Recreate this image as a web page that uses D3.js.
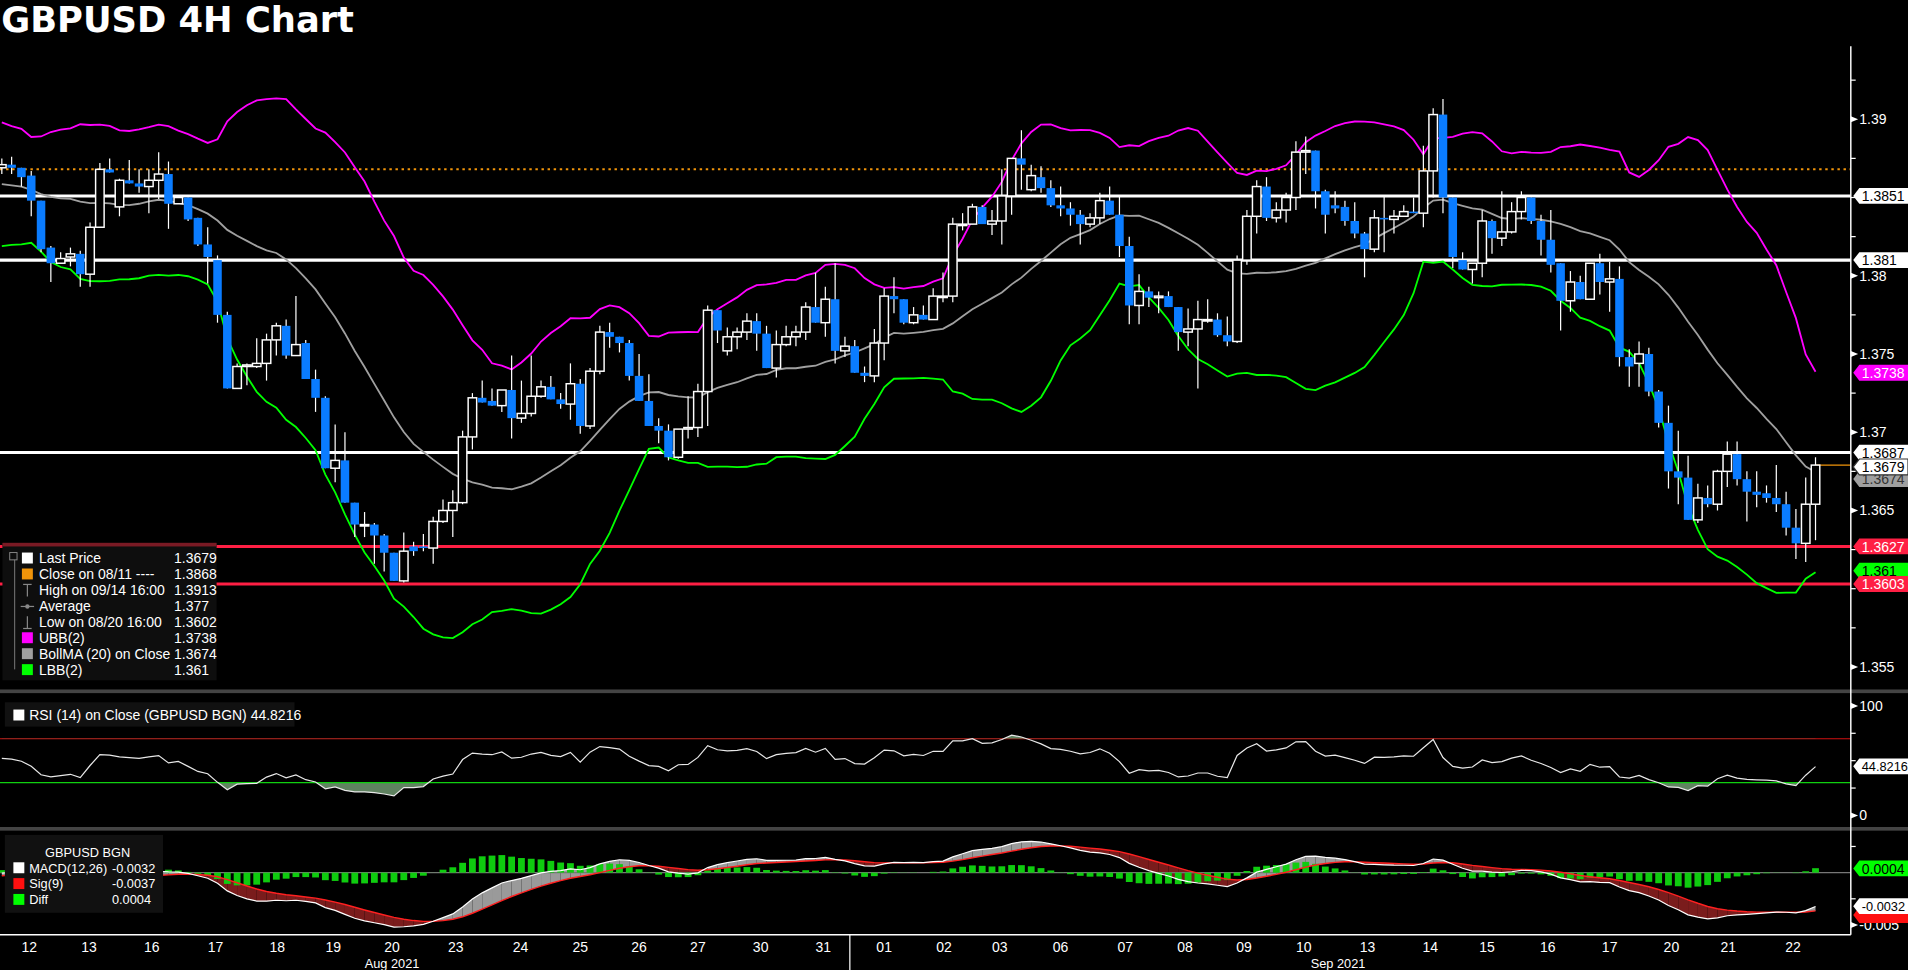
<!DOCTYPE html>
<html><head><meta charset="utf-8">
<script src="https://cdn.jsdelivr.net/npm/d3@7"></script>
<style>html,body{margin:0;padding:0;background:#000;overflow:hidden}svg{display:block}</style>
</head><body>
<script>
// ---------- DATA ----------
const openP=[1.3869,1.3871,1.3869,1.3864,1.3848,1.3818,1.3808,1.3812,1.3814,1.3801,
1.3831,1.3868,1.3844,1.3861,1.3859,1.3857,1.3861,1.3865,1.3846,1.3850,
1.3837,1.3820,1.3810,1.3775,1.3728,1.3742,1.3742,1.3744,1.3759,1.3768,
1.3749,1.3757,1.3734,1.3722,1.3677,1.3682,1.3655,1.3641,1.3641,1.3634,
1.3623,1.3605,1.3627,1.3627,1.3626,1.3643,1.3650,1.3655,1.3697,1.3722,
1.3720,1.3717,1.3727,1.3709,1.3712,1.3723,1.3729,1.3721,1.3718,1.3731,
1.3704,1.3739,1.3764,1.3761,1.3757,1.3736,1.3720,1.3704,1.3701,1.3684,
1.3702,1.3703,1.3726,1.3778,1.3752,1.3761,1.3764,1.3771,1.3763,1.3741,
1.3756,1.3761,1.3764,1.3780,1.3770,1.3785,1.3752,1.3755,1.3738,1.3736,
1.3757,1.3787,1.3785,1.3770,1.3775,1.3772,1.3787,1.3787,1.3833,1.3833,
1.3844,1.3833,1.3835,1.3851,1.3875,1.3855,1.3863,1.3856,1.3845,1.3843,
1.3839,1.3833,1.3837,1.3848,1.3839,1.3819,1.3781,1.3790,1.3786,1.3787,
1.3780,1.3764,1.3766,1.3772,1.3772,1.3762,1.3758,1.3810,1.3838,1.3857,
1.3837,1.3842,1.3850,1.3879,1.3880,1.3854,1.3845,1.3844,1.3835,1.3827,
1.3817,1.3837,1.3836,1.3838,1.3841,1.3840,1.3867,1.3903,1.3850,1.3810,
1.3804,1.3808,1.3835,1.3824,1.3828,1.3841,1.3850,1.3835,1.3823,1.3808,
1.3784,1.3796,1.3785,1.3808,1.3796,1.3798,1.3748,1.3744,1.3750,1.3726,
1.3706,1.3675,1.3671,1.3644,1.3658,1.3654,1.3675,1.3686,1.3670,1.3662,
1.3661,1.3658,1.3654,1.3639,1.3629,1.3654];
const closeP=[1.3871,1.3869,1.3863,1.3848,1.3817,1.3808,1.3811,1.3814,1.3801,1.3831,
1.3868,1.3866,1.3861,1.3859,1.3857,1.3861,1.3865,1.3846,1.3850,1.3836,
1.3820,1.3812,1.3775,1.3728,1.3742,1.3743,1.3744,1.3759,1.3768,1.3749,
1.3756,1.3734,1.3722,1.3677,1.3682,1.3655,1.3641,1.3641,1.3634,1.3623,
1.3605,1.3624,1.3624,1.3626,1.3643,1.3650,1.3655,1.3697,1.3722,1.3719,
1.3717,1.3727,1.3709,1.3712,1.3723,1.3729,1.3721,1.3718,1.3731,1.3704,
1.3739,1.3764,1.3761,1.3757,1.3736,1.3720,1.3704,1.3701,1.3684,1.3702,
1.3703,1.3726,1.3778,1.3765,1.3761,1.3764,1.3771,1.3763,1.3741,1.3756,
1.3761,1.3764,1.3780,1.3770,1.3785,1.3752,1.3755,1.3738,1.3736,1.3757,
1.3787,1.3785,1.3770,1.3775,1.3772,1.3787,1.3787,1.3833,1.3833,1.3844,
1.3833,1.3835,1.3851,1.3875,1.3871,1.3864,1.3856,1.3845,1.3843,1.3839,
1.3833,1.3837,1.3848,1.3839,1.3819,1.3781,1.3790,1.3786,1.3787,1.3780,
1.3764,1.3766,1.3772,1.3772,1.3762,1.3758,1.3810,1.3838,1.3857,1.3837,
1.3842,1.3850,1.3879,1.3880,1.3854,1.3839,1.3843,1.3835,1.3827,1.3817,
1.3837,1.3836,1.3838,1.3841,1.3840,1.3867,1.3903,1.3850,1.3812,1.3804,
1.3808,1.3835,1.3824,1.3828,1.3841,1.3850,1.3835,1.3823,1.3807,1.3784,
1.3796,1.3785,1.3808,1.3796,1.3798,1.3748,1.3742,1.3750,1.3726,1.3706,
1.3675,1.3671,1.3644,1.3658,1.3654,1.3675,1.3686,1.3670,1.3662,1.3660,
1.3658,1.3654,1.3639,1.3629,1.3654,1.3679];
const highP=[1.3875,1.3876,1.3869,1.3867,1.3848,1.3819,1.3815,1.3818,1.3816,1.3834,
1.3872,1.3875,1.3862,1.3874,1.3868,1.3868,1.3879,1.3873,1.3850,1.3850,
1.3837,1.3831,1.3813,1.3777,1.3744,1.3744,1.3760,1.3763,1.3770,1.3772,
1.3787,1.3759,1.3740,1.3723,1.3705,1.3700,1.3655,1.3649,1.3642,1.3635,
1.3623,1.3636,1.3630,1.3635,1.3646,1.3657,1.3663,1.3701,1.3725,1.3733,
1.3728,1.3727,1.3749,1.3733,1.3749,1.3733,1.3736,1.3725,1.3744,1.3734,
1.3741,1.3768,1.3770,1.3761,1.3759,1.3750,1.3737,1.3709,1.3705,1.3702,
1.3723,1.3731,1.3781,1.3778,1.3767,1.3767,1.3776,1.3776,1.3768,1.3765,
1.3768,1.3768,1.3783,1.3802,1.3793,1.3808,1.3761,1.3759,1.3742,1.3766,
1.3792,1.3799,1.3785,1.3780,1.3781,1.3792,1.3802,1.3837,1.3840,1.3846,
1.3845,1.3842,1.3868,1.3875,1.3893,1.3871,1.3870,1.3861,1.3857,1.3847,
1.3842,1.3840,1.3853,1.3857,1.3851,1.3825,1.3801,1.3793,1.3790,1.3790,
1.3780,1.3779,1.3784,1.3785,1.3776,1.3774,1.3813,1.3842,1.3861,1.3863,
1.3847,1.3853,1.3886,1.3889,1.3880,1.3855,1.3854,1.3848,1.3847,1.3828,
1.3842,1.3851,1.3842,1.3845,1.3850,1.3883,1.3907,1.3913,1.3850,1.3815,
1.3808,1.3842,1.3836,1.3854,1.3847,1.3854,1.3850,1.3839,1.3842,1.3808,
1.3803,1.3800,1.3808,1.3814,1.3809,1.3806,1.3753,1.3758,1.3754,1.3727,
1.3717,1.3701,1.3685,1.3667,1.3666,1.3676,1.3694,1.3694,1.3675,1.3675,
1.3666,1.3679,1.3662,1.3651,1.3671,1.3684];
const lowP=[1.3865,1.3865,1.3857,1.3838,1.3815,1.3796,1.3808,1.3806,1.3793,1.3793,
1.3831,1.3866,1.3838,1.3859,1.3853,1.3840,1.3849,1.3830,1.3846,1.3835,
1.3819,1.3795,1.3770,1.3728,1.3728,1.3730,1.3741,1.3733,1.3749,1.3747,
1.3749,1.3734,1.3713,1.3677,1.3668,1.3655,1.3633,1.3633,1.3616,1.3611,
1.3605,1.3604,1.3621,1.3624,1.3616,1.3642,1.3633,1.3654,1.3689,1.3719,
1.3717,1.3713,1.3696,1.3706,1.3710,1.3722,1.3721,1.3715,1.3708,1.3699,
1.3702,1.3737,1.3754,1.3751,1.3733,1.3720,1.3704,1.3693,1.3682,1.3683,
1.3696,1.3697,1.3704,1.3757,1.3749,1.3753,1.3759,1.3752,1.3741,1.3735,
1.3755,1.3755,1.3759,1.3770,1.3761,1.3744,1.3748,1.3738,1.3732,1.3732,
1.3746,1.3776,1.3769,1.3769,1.3772,1.3772,1.3783,1.3783,1.3829,1.3833,
1.3833,1.3826,1.3820,1.3839,1.3855,1.3854,1.3853,1.3844,1.3838,1.3832,
1.3820,1.3831,1.3833,1.3839,1.3812,1.3769,1.3769,1.3780,1.3776,1.3780,
1.3752,1.3755,1.3728,1.3770,1.3761,1.3755,1.3757,1.3807,1.3827,1.3835,
1.3834,1.3834,1.3842,1.3865,1.3843,1.3827,1.3840,1.3832,1.3824,1.3799,
1.3815,1.3815,1.3827,1.3838,1.3840,1.3831,1.3850,1.3840,1.3805,1.3804,
1.3795,1.3799,1.3814,1.3819,1.3827,1.3836,1.3833,1.3813,1.3802,1.3765,
1.3777,1.3785,1.3785,1.3788,1.3777,1.3742,1.3729,1.3729,1.3723,1.3703,
1.3664,1.3654,1.3644,1.3642,1.3652,1.3650,1.3665,1.3666,1.3643,1.3652,
1.3655,1.3649,1.3634,1.3619,1.3617,1.3631];
// closes before the visible window (estimated, used as indicator warm-up)
const priorCloses=[1.3870,1.3862,1.3868,1.3872,1.3866,1.3860,
1.3885,1.3878,1.3890,1.3870,1.3845,1.3828,1.3822,1.3835,1.3850,1.3866,1.3872,1.3880,1.3862,1.3840,1.3830,1.3845,1.3860,1.3875,1.3866];
const dayLabels=["12","13","16","17","18","19","20","23","24","25","26","27","30","31","01","02","03","06","07","08","09","10","13","14","15","16","17","20","21","22"];
const dayIndex=[2.8,8.9,15.3,21.8,28.1,33.8,39.8,46.3,52.9,59,65,71,77.4,83.8,90,96.1,101.8,108,114.6,120.7,126.7,132.8,139.3,145.7,151.5,157.7,164,170.3,176.1,182.7];
const monthLabels=["Aug 2021","Sep 2021"];
const monthIndex=[39.8,136.3];
const monthSplitIndex=87;
const priceTicks=[1.355,1.365,1.37,1.375,1.38,1.39];
const priceMinor=[1.3575,1.36,1.3625,1.3675,1.3725,1.3775,1.3825,1.385,1.3875,1.3925];
const whiteLevels=[1.3851,1.381,1.3687];
const redLevels=[1.3627,1.3603];
const closeOn0811=1.3868;
const rsiTicks=[0,100];
const macdTicks=[-0.005];
const legendRows=[["Last Price","1.3679","#ffffff","box"],["Close on 08/11 ----","1.3868","#f0940a","box"],["High on 09/14 16:00","1.3913","#888","hi"],["Average","1.377","#888","avg"],["Low on 08/20 16:00","1.3602","#888","lo"],["UBB(2)","1.3738","#ff00ff","box"],["BollMA (20)  on Close","1.3674","#a0a0a0","box"],["LBB(2)","1.361","#00ff00","box"]];
const macdLegend=[["MACD(12,26)","-0.0032","#ffffff"],["Sig(9)","-0.0037","#ff1010"],["Diff","0.0004","#00ff00"]];

// ---------- INDICATORS ----------
const allC=priorCloses.concat(closeP), off=priorCloses.length, N=closeP.length;
const bb=d3.range(N).map(i=>{const w=allC.slice(i+off-19,i+off+1);const m=d3.mean(w);const sd=Math.sqrt(d3.mean(w,v=>(v-m)*(v-m)));return {m,u:m+2*sd,l:m-2*sd};});
function ema(arr,p){const k=2/(p+1);const o=[];arr.forEach((v,i)=>o.push(i?v*k+o[i-1]*(1-k):v));return o;}
const e12=ema(allC,12),e26=ema(allC,26);const macdAll=allC.map((v,i)=>e12[i]-e26[i]);const sigAll=ema(macdAll,9);
const macd=macdAll.slice(off),sig=sigAll.slice(off);
const rsiAll=[];{let ag=0,al=0;for(let i=1;i<allC.length;i++){const d=allC[i]-allC[i-1];const g=Math.max(d,0),l=Math.max(-d,0);if(i<=14){ag+=g/14;al+=l/14;}else{ag=(ag*13+g)/14;al=(al*13+l)/14;}rsiAll[i]=100-100/(1+ag/(al||1e-9));}}
const rsi=rsiAll.slice(off);

// ---------- DRAW ----------
const W=1568,H=797;
const svg=d3.select("body").append("svg").attr("width",1908).attr("height",970).attr("viewBox",`0 0 ${W} ${H}`).attr("preserveAspectRatio","none")
 .style("font-family","'DejaVu Sans',Verdana,sans-serif");
svg.append("rect").attr("width",W).attr("height",H).attr("fill","#000");
const AX=1521;
const x=d3.scaleLinear().domain([0,N-1]).range([1.5,1492]);
const y=d3.scaleLinear().domain([1.355,1.39]).range([548,98]);
const yr=d3.scaleLinear().domain([0,100]).range([670,580]);
const ym=d3.scaleLinear().domain([-0.005,0.0025]).range([760,695.5]);

svg.append("text").attr("x",1).attr("y",26).attr("fill","#fff").attr("font-size",29).attr("font-weight","bold").text("GBPUSD 4H Chart");

const main=svg.append("g");
main.append("line").attr("x1",0).attr("x2",AX).attr("y1",y(closeOn0811)).attr("y2",y(closeOn0811)).attr("stroke","#f0940a").attr("stroke-width",1.6).attr("stroke-dasharray","2,3");
main.selectAll(".wl").data(whiteLevels).join("line").attr("x1",0).attr("x2",AX).attr("y1",d=>y(d)).attr("y2",d=>y(d)).attr("stroke","#fff").attr("stroke-width",2.5);
main.selectAll(".rl").data(redLevels).join("line").attr("x1",0).attr("x2",AX).attr("y1",d=>y(d)).attr("y2",d=>y(d)).attr("stroke","#ff1f44").attr("stroke-width",2.5);
const ln=(f)=>d3.line().x((d,i)=>x(i)).y(f);
main.append("path").attr("d",ln(d=>y(d.u))(bb)).attr("fill","none").attr("stroke","#ff00ff").attr("stroke-width",1.5);
main.append("path").attr("d",ln(d=>y(d.m))(bb)).attr("fill","none").attr("stroke","#a0a0a0").attr("stroke-width",1.5);
main.append("path").attr("d",ln(d=>y(d.l))(bb)).attr("fill","none").attr("stroke","#00ff00").attr("stroke-width",1.5);
main.append("line").attr("x1",x(N-1)).attr("x2",AX).attr("y1",y(closeP[N-1])).attr("y2",y(closeP[N-1])).attr("stroke","#f0940a").attr("stroke-width",1);
const cg=main.selectAll(".c").data(d3.range(N)).join("g");
cg.append("line").attr("x1",i=>x(i)).attr("x2",i=>x(i)).attr("y1",i=>y(highP[i])).attr("y2",i=>y(lowP[i])).attr("stroke","#fff").attr("stroke-width",1);
cg.append("rect").attr("x",i=>x(i)-3.5).attr("width",7)
 .attr("y",i=>y(Math.max(openP[i],closeP[i]))).attr("height",i=>Math.max(1.2,Math.abs(y(openP[i])-y(closeP[i]))))
 .attr("fill",i=>closeP[i]<openP[i]?"#0a7cff":"#000").attr("stroke",i=>closeP[i]<openP[i]?"none":"#fff").attr("stroke-width",1.2);

// legend
const lf="'Liberation Sans',Arial,sans-serif";
const lg=svg.append("g").attr("transform","translate(2,446)").style("font-family",lf);
lg.append("rect").attr("width",176).attr("height",113).attr("fill","#0e0e0e");
lg.append("rect").attr("width",176).attr("height",3).attr("fill","#7a1a24");
lg.append("line").attr("x1",10).attr("x2",10).attr("y1",12).attr("y2",104).attr("stroke","#666");
lg.append("rect").attr("x",6).attr("y",8).attr("width",6).attr("height",6).attr("fill","#0e0e0e").attr("stroke","#888").attr("stroke-width",0.8);
legendRows.forEach((r,i)=>{const yy=13+i*13.1;
 if(r[3]==="box")lg.append("rect").attr("x",16).attr("y",yy-5).attr("width",9).attr("height",9).attr("fill",r[2]);
 else if(r[3]==="hi"){lg.append("line").attr("x1",20.5).attr("x2",20.5).attr("y1",yy-5).attr("y2",yy+5).attr("stroke","#888");lg.append("line").attr("x1",17).attr("x2",24).attr("y1",yy-5).attr("y2",yy-5).attr("stroke","#888");}
 else if(r[3]==="lo"){lg.append("line").attr("x1",20.5).attr("x2",20.5).attr("y1",yy-5).attr("y2",yy+5).attr("stroke","#888");lg.append("line").attr("x1",17).attr("x2",24).attr("y1",yy+5).attr("y2",yy+5).attr("stroke","#888");}
 else {lg.append("line").attr("x1",15).attr("x2",26).attr("y1",yy).attr("y2",yy).attr("stroke","#888");lg.append("circle").attr("cx",20.5).attr("cy",yy).attr("r",1.8).attr("fill","#888");}
 lg.append("text").attr("x",30).attr("y",yy+4).attr("fill","#fff").attr("font-size",11.5).text(r[0]);
 lg.append("text").attr("x",141).attr("y",yy+4).attr("fill","#fff").attr("font-size",11.5).text(r[1]);
});

// separators
[568,681].forEach(s=>svg.append("rect").attr("x",0).attr("y",s-1.5).attr("width",W).attr("height",3).attr("fill","#444"));

// RSI panel
const rp=svg.append("g");
rp.append("line").attr("x1",0).attr("x2",AX).attr("y1",yr(70)).attr("y2",yr(70)).attr("stroke","#d01010").attr("stroke-width",1);
const clipLo=svg.append("clipPath").attr("id","clo");clipLo.append("rect").attr("x",0).attr("y",yr(30)).attr("width",AX).attr("height",40);
const clipHi=svg.append("clipPath").attr("id","chi");clipHi.append("rect").attr("x",0).attr("y",575).attr("width",AX).attr("height",yr(70)-575);
rp.append("path").attr("d",d3.area().x((d,i)=>x(i)).y0(yr(30)).y1(d=>yr(d))(rsi)).attr("fill","#5f8260").attr("clip-path","url(#clo)");
rp.append("path").attr("d",d3.area().x((d,i)=>x(i)).y0(yr(70)).y1(d=>yr(d))(rsi)).attr("fill","#5f8260").attr("clip-path","url(#chi)");
rp.append("line").attr("x1",0).attr("x2",AX).attr("y1",yr(30)).attr("y2",yr(30)).attr("stroke","#10d010").attr("stroke-width",1);
rp.append("path").attr("d",d3.line().x((d,i)=>x(i)).y(d=>yr(d))(rsi)).attr("fill","none").attr("stroke","#e8e8e8").attr("stroke-width",1);
const rl=svg.append("g").attr("transform","translate(4,577)").style("font-family",lf);
rl.append("rect").attr("width",238).attr("height",20).attr("fill","#111");
rl.append("rect").attr("x",7).attr("y",6).attr("width",9).attr("height",9).attr("fill","#fff");
rl.append("text").attr("x",20).attr("y",14.5).attr("fill","#fff").attr("font-size",11.5).text("RSI (14)   on Close (GBPUSD BGN) 44.8216");

// MACD panel
const mp=svg.append("g");
for(let i=0;i<N-1;i++){
 const up=(macd[i]+macd[i+1])>=(sig[i]+sig[i+1]);
 mp.append("path").attr("d",`M${x(i)},${ym(macd[i])}L${x(i+1)},${ym(macd[i+1])}L${x(i+1)},${ym(sig[i+1])}L${x(i)},${ym(sig[i])}Z`).attr("fill",up?"#9a9a9a":"#7a1c1c");
}
mp.append("line").attr("x1",0).attr("x2",AX).attr("y1",ym(0)).attr("y2",ym(0)).attr("stroke","#777").attr("stroke-width",1);
mp.selectAll(".h").data(d3.range(N)).join("rect").attr("x",i=>x(i)-2.8).attr("width",5.6)
 .attr("y",i=>Math.min(ym(0),ym(macd[i]-sig[i]))).attr("height",i=>Math.abs(ym(macd[i]-sig[i])-ym(0))).attr("fill","#0fcc0f");
mp.append("path").attr("d",d3.line().x((d,i)=>x(i)).y(d=>ym(d))(sig)).attr("fill","none").attr("stroke","#ff2020").attr("stroke-width",1.2);
mp.append("path").attr("d",d3.line().x((d,i)=>x(i)).y(d=>ym(d))(macd)).attr("fill","none").attr("stroke","#fff").attr("stroke-width",1);
const ml=svg.append("g").attr("transform","translate(4,686)").style("font-family",lf);
ml.append("rect").attr("width",130).attr("height",64).attr("fill","#111");
ml.append("text").attr("x",33).attr("y",18).attr("fill","#fff").attr("font-size",10.5).text("GBPUSD BGN");
macdLegend.forEach((r,i)=>{const yy=27+i*13;
 ml.append("rect").attr("x",7).attr("y",yy-4.5).attr("width",9).attr("height",9).attr("fill",r[2]);
 ml.append("text").attr("x",20).attr("y",yy+4).attr("fill","#fff").attr("font-size",10.5).text(r[0]);
 ml.append("text").attr("x",88).attr("y",yy+4).attr("fill","#fff").attr("font-size",10.5).text(r[1]);
});

// axes
const af="'Liberation Sans',Arial,sans-serif";
svg.append("line").attr("x1",AX).attr("x2",AX).attr("y1",38).attr("y2",768).attr("stroke","#fff").attr("stroke-width",1.2);
svg.append("line").attr("x1",0).attr("x2",AX).attr("y1",768).attr("y2",768).attr("stroke","#fff").attr("stroke-width",1.2);
function tickLabel(yy,t){svg.append("path").attr("d",`M${AX},${yy-2.5}L${AX+6},${yy}L${AX},${yy+2.5}Z`).attr("fill","#fff");
 svg.append("text").attr("x",AX+7).attr("y",yy+4).attr("fill","#fff").attr("font-size",11.5).style("font-family",af).text(t);}
priceTicks.forEach(p=>tickLabel(y(p),d3.format("")(p)));
priceMinor.forEach(p=>svg.append("line").attr("x1",AX).attr("x2",AX+4).attr("y1",y(p)).attr("y2",y(p)).attr("stroke","#fff"));
rsiTicks.forEach(p=>tickLabel(yr(p),String(p)));
[25,50,75].forEach(p=>svg.append("line").attr("x1",AX).attr("x2",AX+4).attr("y1",yr(p)).attr("y2",yr(p)).attr("stroke","#fff"));
macdTicks.forEach(p=>tickLabel(ym(p),String(p)));
[0.0025,-0.0025].forEach(p=>svg.append("line").attr("x1",AX).attr("x2",AX+4).attr("y1",ym(p)).attr("y2",ym(p)).attr("stroke","#fff"));

function tag(yy,t,bg,fg,extra,fs){const g=svg.append("g").style("font-family",af);
 g.append("path").attr("d",`M${AX+2},${yy}L${AX+7},${yy-6.5}H${W}V${yy+6.5}H${AX+7}Z`).attr("fill",bg).attr("stroke",extra||"none");
 g.append("text").attr("x",AX+9).attr("y",yy+4.2).attr("fill",fg).attr("font-size",fs||11.5).text(t);}
tag(y(1.3851),"1.3851","#fff","#000");
tag(y(1.381),"1.381","#fff","#000");
tag(y(1.3738),"1.3738","#ff00ff","#fff");
tag(y(1.3674)+5,"1.3674","#a0a0a0","#333");
tag(y(1.3687),"1.3687","#fff","#000");
tag(y(1.3679)+1.5,"1.3679","#fff","#000","#333");
tag(y(1.3627),"1.3627","#ff1f44","#fff");
tag(y(1.361)-2,"1.361","#00ff00","#000");
tag(y(1.3603),"1.3603","#ff1f44","#fff");
tag(yr(44.8216),"44.8216","#fff","#000",null,10.5);
tag(ym(-0.0037)+3,"","#ff1010","#000");
tag(ym(-0.0032),"-0.0032","#fff","#000",null,10.5);
tag(ym(0.0004),"0.0004","#00ff00","#000");

// x labels
svg.selectAll(".dl").data(dayLabels).join("text").attr("x",(d,i)=>x(dayIndex[i])).attr("y",782).attr("text-anchor","middle").attr("fill","#fff").attr("font-size",11.5).style("font-family",af).text(d=>d);
svg.selectAll(".ml").data(monthLabels).join("text").attr("x",(d,i)=>x(monthIndex[i])).attr("y",795).attr("text-anchor","middle").attr("fill","#fff").attr("font-size",10.5).style("font-family",af).text(d=>d);
svg.append("line").attr("x1",(x(monthSplitIndex-1)+x(monthSplitIndex))/2).attr("x2",(x(monthSplitIndex-1)+x(monthSplitIndex))/2).attr("y1",768).attr("y2",797).attr("stroke","#fff").attr("stroke-width",1);
</script>
</body></html>
